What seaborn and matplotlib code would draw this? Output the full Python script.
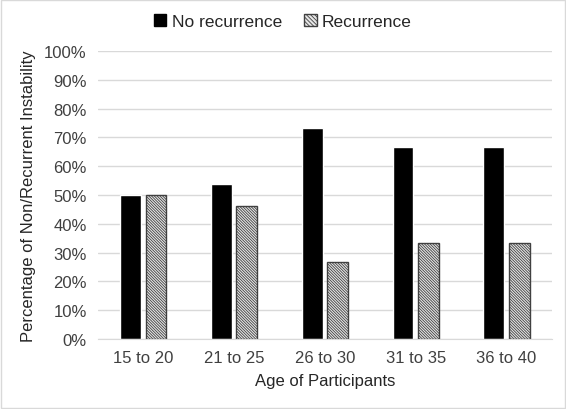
import numpy as np
import pandas as pd
import matplotlib
matplotlib.use('Agg')
import matplotlib.pyplot as plt
import seaborn as sns
from matplotlib.ticker import PercentFormatter, MultipleLocator
from matplotlib.patches import Rectangle

sns.set_style('white')
plt.rcParams['font.family'] = ['Liberation Sans', 'DejaVu Sans']
plt.rcParams['hatch.linewidth'] = 0.6
plt.rcParams['hatch.color'] = '#595959'

age_groups = ['15 to 20', '21 to 25', '26 to 30', '31 to 35', '36 to 40']
no_recurrence = [0.50, 0.538, 0.733, 0.667, 0.667]
recurrence = [0.50, 0.462, 0.267, 0.333, 0.333]

df = pd.DataFrame({
    'Age': age_groups * 2,
    'Pct': no_recurrence + recurrence,
    'Group': ['No recurrence'] * 5 + ['Recurrence'] * 5,
})

fig = plt.figure(figsize=(5.66, 4.1), dpi=100)
ax = fig.add_axes([0.173, 0.171, 0.802, 0.702])

sns.barplot(data=df, x='Age', y='Pct', hue='Group', ax=ax,
            palette=['black', '#e6e6e6'], width=0.56, gap=0.18,
            saturation=1, legend=False)

# hatch the recurrence bars (fine diagonal pattern)
fine_hatch = '\\' * 12
for p in ax.patches[5:10]:
    p.set_hatch(fine_hatch)
    p.set_edgecolor('#404040')
    p.set_linewidth(1.0)

ax.set_ylim(0, 1)
ax.set_xlim(-0.5, 4.5)
ax.yaxis.set_major_locator(MultipleLocator(0.1))
ax.yaxis.set_major_formatter(PercentFormatter(1.0, decimals=0))
ax.grid(axis='y', color='#d9d9d9', linewidth=1)
ax.set_axisbelow(True)
for s in ['top', 'right', 'left']:
    ax.spines[s].set_visible(False)
ax.spines['bottom'].set_color('#d9d9d9')
ax.tick_params(axis='both', length=0, labelsize=12, colors='#404040', pad=8)
ax.set_xlabel('Age of Participants', fontsize=12, color='#262626', labelpad=6)
ax.set_ylabel('Percentage of Non/Recurrent Instability', fontsize=12, color='#262626', labelpad=6)

handles = [Rectangle((0, 0), 1, 1, facecolor='black', edgecolor='black'),
           Rectangle((0, 0), 1, 1, facecolor='#e6e6e6', edgecolor='#404040', hatch='\\' * 8)]
fig.legend(handles, ['No recurrence', 'Recurrence'], loc='center', bbox_to_anchor=(0.5, 0.945),
           ncol=2, frameon=False, fontsize=12.5, handlelength=0.7, handleheight=0.7,
           handletextpad=0.3, columnspacing=1.3)

fig.add_artist(Rectangle((0.002, 0.002), 0.996, 0.996, transform=fig.transFigure,
                         fill=False, edgecolor='#d9d9d9', linewidth=1))

fig.savefig('out.png', dpi=100, facecolor='white')
